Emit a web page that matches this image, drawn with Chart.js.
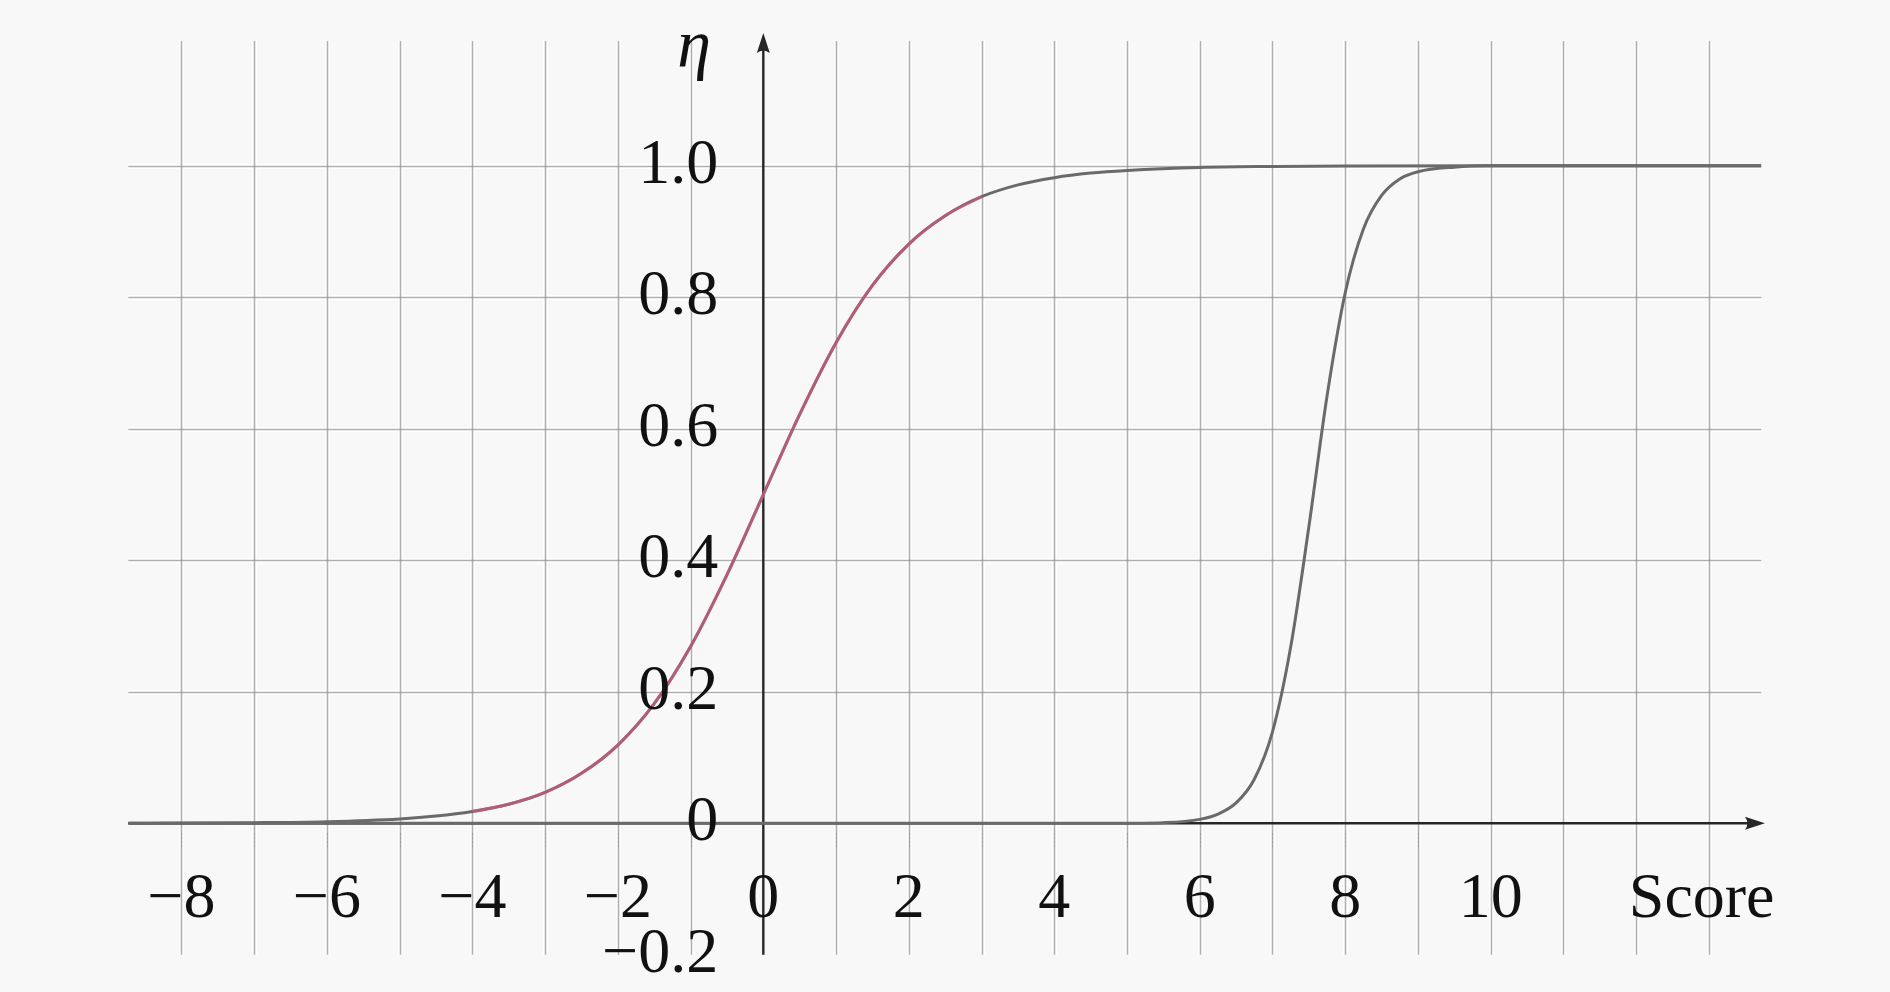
<!DOCTYPE html>
<html>
<head>
<meta charset="utf-8">
<script src="https://cdn.jsdelivr.net/npm/chart.js@4.4.1/dist/chart.umd.min.js"></script>
<style>
  html, body { margin: 0; padding: 0; background: #f8f8f8; }
  #wrap { width: 1890px; height: 992px; }
</style>
</head>
<body>
<div id="wrap"><canvas id="c" width="1890" height="992"></canvas></div>
<script>
// ---- data ----
const sigX = [-8.73, -8, -7, -6, -5, -4.5, -4, -3.5, -3, -2.5, -2, -1.5, -1, -0.5, 0, 0.5, 1, 1.5, 2, 2.5, 3, 3.5, 4, 4.5, 5, 6, 7, 8, 10, 13.72];
const sigY = [0.0002, 0.0003, 0.0009, 0.0025, 0.0067, 0.011, 0.018, 0.029, 0.047, 0.076, 0.119, 0.182, 0.269, 0.378, 0.5, 0.622, 0.731, 0.818, 0.881, 0.924, 0.953, 0.971, 0.982, 0.989, 0.993, 0.9975, 0.999, 0.9997, 1.0, 1.0];
const steepX = [-8.73, 4, 5, 5.5, 6, 6.25, 6.5, 6.75, 7, 7.25, 7.5, 7.75, 8, 8.25, 8.5, 8.75, 9, 9.5, 10, 13.72];
const steepY = [0, 0, 0.0002, 0.001, 0.006, 0.014, 0.031, 0.067, 0.139, 0.268, 0.451, 0.65, 0.807, 0.904, 0.955, 0.98, 0.991, 0.998, 1.0, 1.0];
const redRange = [-4, 3];
const xTickVals = [-8, -6, -4, -2, 0, 2, 4, 6, 8, 10];
const xTickLabels = ['\u22128', '\u22126', '\u22124', '\u22122', '0', '2', '4', '6', '8', '10'];
const yTickVals = [-0.2, 0, 0.2, 0.4, 0.6, 0.8, 1.0];
const yTickLabels = ['\u22120.2', '0', '0.2', '0.4', '0.6', '0.8', '1.0'];
const xGridVals = [-8, -7, -6, -5, -4, -3, -2, -1, 1, 2, 3, 4, 5, 6, 7, 8, 9, 10, 11, 12, 13];
const yGridVals = [0.2, 0.4, 0.6, 0.8, 1.0];
const xLabel = 'Score';
const yLabel = '\u03B7';

const X_MIN = -8.73, X_MAX = 13.72, Y_MIN = -0.2, Y_MAX = 1.19;

const sigPts = sigX.map((x, i) => ({x, y: sigY[i]}));
const steepPts = steepX.map((x, i) => ({x, y: steepY[i]}));
const redPts = sigPts.filter(p => p.x >= redRange[0] && p.x <= redRange[1]);

const FONT = "'Liberation Serif', 'DejaVu Serif', serif";

const decor = {
  id: 'decor',
  beforeDraw(chart) {
    const ctx = chart.ctx;
    ctx.save();
    ctx.fillStyle = '#f8f8f8';
    ctx.fillRect(0, 0, chart.width, chart.height);
    ctx.restore();
  },
  beforeDatasetsDraw(chart) {
    const {ctx, scales: {x, y}} = chart;
    ctx.save();
    const gy0 = y.getPixelForValue(Y_MIN), gy1 = y.getPixelForValue(Y_MAX);
    const gx0 = x.getPixelForValue(X_MIN), gx1 = x.getPixelForValue(X_MAX);
    ctx.strokeStyle = '#ffffff';
    ctx.lineWidth = 5;
    xGridVals.forEach(v => {
      const px = Math.round(x.getPixelForValue(v)) + 0.5;
      ctx.beginPath(); ctx.moveTo(px, gy0); ctx.lineTo(px, gy1); ctx.stroke();
    });
    yGridVals.forEach(v => {
      const py = Math.round(y.getPixelForValue(v)) + 0.5;
      ctx.beginPath(); ctx.moveTo(gx0, py); ctx.lineTo(gx1, py); ctx.stroke();
    });
    ctx.strokeStyle = 'rgba(150,150,150,0.75)';
    ctx.lineWidth = 1.6;
    xGridVals.forEach(v => {
      const px = Math.round(x.getPixelForValue(v)) + 0.5;
      ctx.beginPath(); ctx.moveTo(px, gy0); ctx.lineTo(px, gy1); ctx.stroke();
    });
    yGridVals.forEach(v => {
      const py = Math.round(y.getPixelForValue(v)) + 0.5;
      ctx.beginPath(); ctx.moveTo(gx0, py); ctx.lineTo(gx1, py); ctx.stroke();
    });

    const ay = y.getPixelForValue(0);
    ctx.strokeStyle = 'rgba(120,120,120,0.35)';
    ctx.lineWidth = 1;
    ctx.setLineDash([2, 2]);
    for (let v = -8; v <= 9; v++) {
      if (v === 0) continue;
      const px = Math.round(x.getPixelForValue(v)) + 0.5;
      ctx.beginPath(); ctx.moveTo(px, ay + 10); ctx.lineTo(px, ay + 24); ctx.stroke();
    }
    ctx.setLineDash([]);

    const ax = x.getPixelForValue(0);
    const xTip = x.getPixelForValue(13.77);
    const yTip = y.getPixelForValue(1.202);
    ctx.strokeStyle = '#262626';
    ctx.fillStyle = '#262626';
    ctx.lineWidth = 2.4;
    ctx.beginPath(); ctx.moveTo(gx0, ay); ctx.lineTo(xTip - 10, ay); ctx.stroke();
    ctx.beginPath(); ctx.moveTo(ax, gy0); ctx.lineTo(ax, yTip + 10); ctx.stroke();
    ctx.beginPath();
    ctx.moveTo(xTip, ay);
    ctx.lineTo(xTip - 20, ay - 6.5);
    ctx.quadraticCurveTo(xTip - 15, ay, xTip - 20, ay + 6.5);
    ctx.closePath(); ctx.fill();
    ctx.beginPath();
    ctx.moveTo(ax, yTip);
    ctx.lineTo(ax - 6.5, yTip + 20);
    ctx.quadraticCurveTo(ax, yTip + 15, ax + 6.5, yTip + 20);
    ctx.closePath(); ctx.fill();
    ctx.restore();
  },
  afterDatasetsDraw(chart) {
    const {ctx, scales: {x, y}} = chart;
    ctx.save();
    ctx.fillStyle = '#111111';
    ctx.font = '64px ' + FONT;
    ctx.textBaseline = 'alphabetic';
    ctx.textAlign = 'center';
    xTickVals.forEach((v, i) => {
      ctx.fillText(xTickLabels[i], x.getPixelForValue(v), 917);
    });
    ctx.fillText(xLabel, x.getPixelForValue(12.9), 917);
    ctx.textAlign = 'right';
    const lx = x.getPixelForValue(-0.62);
    yTickVals.forEach((v, i) => {
      ctx.fillText(yTickLabels[i], lx, y.getPixelForValue(v) + 17);
    });
    ctx.textAlign = 'center';
    ctx.font = 'italic 68px ' + FONT;
    ctx.fillText(yLabel, x.getPixelForValue(-0.95), y.getPixelForValue(1.15));
    ctx.restore();
  }
};

new Chart(document.getElementById('c'), {
  type: 'scatter',
  data: {
    datasets: [
      { data: redPts, order: 0, showLine: true, borderColor: 'rgba(222,84,124,0.62)', borderWidth: 3, pointRadius: 0, cubicInterpolationMode: 'monotone', fill: false },
      { data: sigPts, order: 1, showLine: true, borderColor: '#6a6a6a', borderWidth: 3, pointRadius: 0, cubicInterpolationMode: 'monotone', fill: false },
      { data: steepPts, order: 2, showLine: true, borderColor: '#6a6a6a', borderWidth: 3, pointRadius: 0, cubicInterpolationMode: 'monotone', fill: false }
    ]
  },
  options: {
    responsive: false,
    animation: false,
    events: [],
    layout: { padding: { left: 128.3, right: 1890 - 1761.3, top: 40.9, bottom: 992 - 954.8 } },
    plugins: { legend: { display: false }, tooltip: { enabled: false } },
    scales: {
      x: { type: 'linear', display: false, min: X_MIN, max: X_MAX },
      y: { type: 'linear', display: false, min: Y_MIN, max: Y_MAX }
    }
  },
  plugins: [decor]
});
</script>
</body>
</html>
